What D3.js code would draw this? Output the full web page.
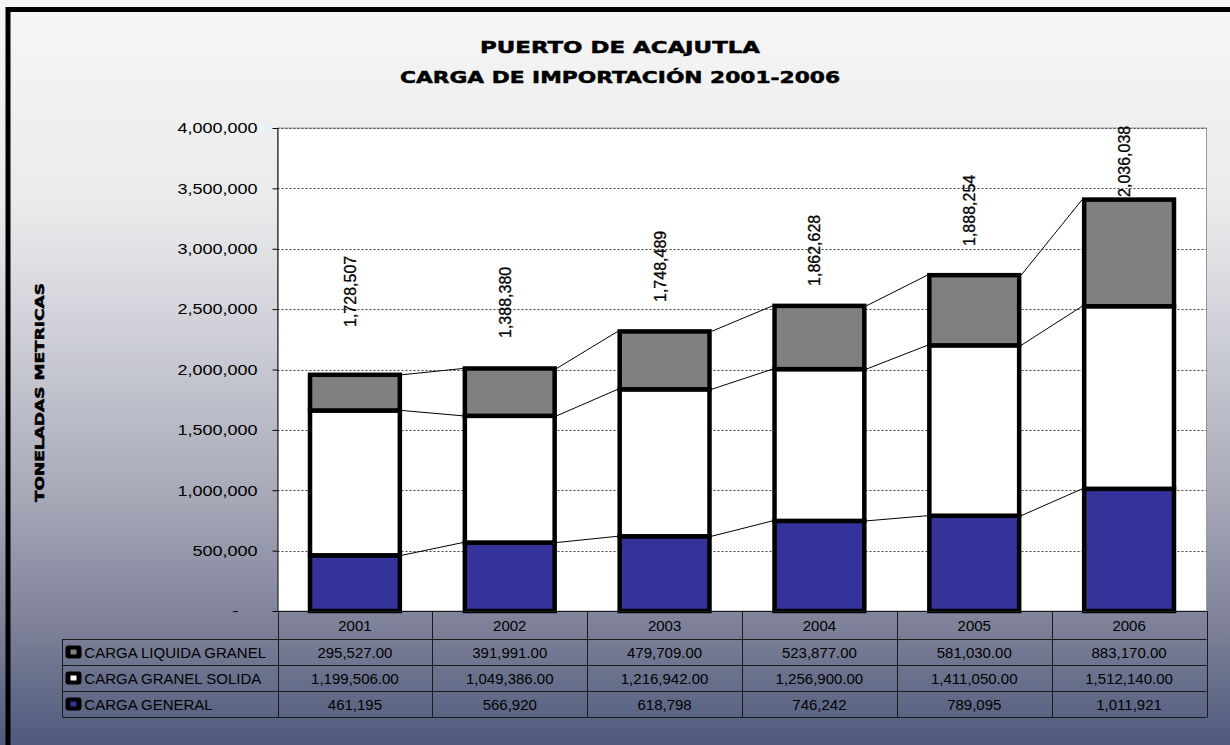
<!DOCTYPE html>
<html lang="es">
<head>
<meta charset="utf-8">
<title>Puerto de Acajutla - Carga de importación 2001-2006</title>
<script src="https://cdn.jsdelivr.net/npm/d3@7"></script>
<style>
body { margin: 0; background: #f0f0f0; }
svg text { font-family: "Liberation Sans", Arial, sans-serif; fill: #000; }
svg text.bold { font-family: "DejaVu Sans", sans-serif; font-weight: bold; fill: #000; stroke: #000; stroke-width: 0.5; }
</style>
</head>
<body>
<script>
// categories
var years = ['2001', '2002', '2003', '2004', '2005', '2006'];

// series values (toneladas metricas)
var cargaGeneral = [461195, 566920, 618798, 746242, 789095, 1011921];
var cargaGranelSolida = [1199506, 1049386, 1216942, 1256900, 1411050, 1512140];
var cargaLiquidaGranel = [295527, 391991, 479709, 523877, 581030, 883170];

// labels written above the bars, and the level of the hidden series they sit on
var labelValues = [1728507, 1388380, 1748489, 1862628, 1888254, 2036038];
var labelLevels = [2352000, 2261000, 2559000, 2692000, 3023000, 3429000];

// axis ticks
var yTicks = [0, 500000, 1000000, 1500000, 2000000, 2500000, 3000000, 3500000, 4000000];

var w = 1230;
var h = 745;

var svg = d3.select('body')
    .append('svg')
    .attr('width', w)
    .attr('height', h);

//background gradient
var grad = svg.append('defs')
    .append('linearGradient')
    .attr('id', 'bg')
    .attr('x1', 0).attr('y1', 0)
    .attr('x2', 0).attr('y2', 1);

[[0, '#f6f6f6'], [0.27, '#ebebed'], [0.4, '#d7d8de'], [0.67, '#a6a8b7'], [0.85, '#7b7f97'], [1, '#4f5a7c']]
    .forEach(function(s) {
        grad.append('stop').attr('offset', s[0]).attr('stop-color', s[1]);
    });

svg.append('rect')
    .attr('width', w)
    .attr('height', h)
    .attr('fill', 'url(#bg)');

//chart frame (runs off the right and bottom edges)
svg.append('rect')
    .attr('x', 8)
    .attr('y', 9.5)
    .attr('width', w + 40)
    .attr('height', h + 40)
    .attr('fill', 'none')
    .attr('stroke', '#000')
    .attr('stroke-width', 5);

//scales
var plotLeft = 277.5, plotRight = 1206.5, plotTop = 128, plotBottom = 611;

var x = d3.scaleBand()
    .domain(years)
    .range([plotLeft, plotRight])
    .paddingInner(0.42)
    .paddingOuter(0.21);

var y = d3.scaleLinear()
    .domain([0, 4000000])
    .range([plotBottom, plotTop]);

var bw = x.bandwidth();

//plot area
svg.append('rect')
    .attr('x', plotLeft)
    .attr('y', plotTop)
    .attr('width', plotRight - plotLeft)
    .attr('height', plotBottom - plotTop)
    .attr('fill', '#fff')
    .attr('stroke', '#999');

//gridlines
svg.append('g')
    .selectAll('line')
    .data(yTicks.filter(function(d) { return d > 0; }))
    .enter()
    .append('line')
    .attr('x1', plotLeft)
    .attr('x2', plotRight)
    .attr('y1', function(d) { return Math.round(y(d)) + 0.5; })
    .attr('y2', function(d) { return Math.round(y(d)) + 0.5; })
    .attr('stroke', '#444')
    .attr('stroke-dasharray', '2,2');

//stacked data
var rows = years.map(function(yr, i) {
    return {
        year: yr,
        general: cargaGeneral[i],
        solida: cargaGranelSolida[i],
        liquida: cargaLiquidaGranel[i]
    };
});

var keys = ['general', 'solida', 'liquida'];
var colors = { general: '#333399', solida: '#ffffff', liquida: '#808080' };
var series = d3.stack().keys(keys)(rows);

//series lines between bars
series.forEach(function(s) {
    svg.append('g')
        .selectAll('line')
        .data(s.slice(0, -1))
        .enter()
        .append('line')
        .attr('x1', function(d) { return x(d.data.year) + bw + 2; })
        .attr('y1', function(d) { return y(d[1]); })
        .attr('x2', function(d, i) { return x(years[i + 1]) - 2; })
        .attr('y2', function(d, i) { return y(s[i + 1][1]); })
        .attr('stroke', '#000')
        .attr('stroke-width', 1);
});

//bars
svg.append('g')
    .selectAll('g')
    .data(series)
    .enter()
    .append('g')
    .attr('fill', function(d) { return colors[d.key]; })
    .selectAll('rect')
    .data(function(d) { return d; })
    .enter()
    .append('rect')
    .attr('x', function(d) { return x(d.data.year); })
    .attr('y', function(d) { return y(d[1]); })
    .attr('width', bw)
    .attr('height', function(d) { return y(d[0]) - y(d[1]); })
    .attr('stroke', '#000')
    .attr('stroke-width', 4.5);

//rotated labels
svg.append('g')
    .selectAll('text')
    .data(labelValues)
    .enter()
    .append('text')
    .attr('transform', function(d, i) {
        return 'translate(' + (x(years[i]) + bw / 2 + 1) + ',' + y(labelLevels[i]) + ') rotate(-90)';
    })
    .attr('font-size', 16)
    .attr('stroke', '#000')
    .attr('stroke-width', 0.3)
    .text(function(d) { return d3.format(',')(d); });

//y axis
var yAxis = svg.append('g')
    .attr('transform', 'translate(' + plotLeft + ',0)')
    .call(d3.axisLeft(y)
        .tickValues(yTicks)
        .tickSize(5)
        .tickSizeOuter(0)
        .tickPadding(11.7)
        .tickFormat(function(d) { return d === 0 ? '-' : d3.format(',')(d); }));

yAxis.selectAll('text')
    .attr('font-size', 15)
    .attr('font-family', '"Liberation Sans", Arial, sans-serif')
    .attr('fill', '#000')
    .attr('transform', 'scale(1.2,1)')
    .filter(function(d) { return d === 0; })
    .attr('x', -32.5);

yAxis.selectAll('line, path').attr('stroke', '#000');

//axis title
svg.append('text')
    .attr('class', 'bold')
    .attr('transform', 'translate(43.5,392.5) rotate(-90)')
    .attr('text-anchor', 'middle')
    .attr('font-size', 12.5)
    .attr('textLength', 219)
    .attr('lengthAdjust', 'spacingAndGlyphs')
    .text('TONELADAS METRICAS');

//title
svg.append('text')
    .attr('class', 'bold')
    .attr('x', 620)
    .attr('y', 53)
    .attr('text-anchor', 'middle')
    .attr('font-size', 16.5)
    .attr('textLength', 280)
    .attr('lengthAdjust', 'spacingAndGlyphs')
    .text('PUERTO DE ACAJUTLA');

svg.append('text')
    .attr('class', 'bold')
    .attr('x', 620)
    .attr('y', 83)
    .attr('text-anchor', 'middle')
    .attr('font-size', 16.5)
    .attr('textLength', 440)
    .attr('lengthAdjust', 'spacingAndGlyphs')
    .text('CARGA DE IMPORTACIÓN 2001-2006');

//data table
var tableLeft = 62.5;
var headerBottom = 639;
var rowH = 26;

var tableRows = [
    { name: 'CARGA LIQUIDA GRANEL', key: 'liquida', values: cargaLiquidaGranel, fmt: d3.format(',.2f') },
    { name: 'CARGA GRANEL SOLIDA', key: 'solida', values: cargaGranelSolida, fmt: d3.format(',.2f') },
    { name: 'CARGA GENERAL', key: 'general', values: cargaGeneral, fmt: d3.format(',') }
];

var table = svg.append('g');
var lineColor = '#1a1a1a';
var tableBottom = headerBottom + rowH * tableRows.length;

//horizontal lines
table.append('line')
    .attr('x1', plotLeft).attr('x2', plotRight)
    .attr('y1', plotBottom + 0.5).attr('y2', plotBottom + 0.5)
    .attr('stroke', lineColor);

d3.range(tableRows.length + 1).forEach(function(r) {
    var yy = headerBottom + r * rowH + 0.5;
    table.append('line')
        .attr('x1', tableLeft).attr('x2', plotRight)
        .attr('y1', yy).attr('y2', yy)
        .attr('stroke', lineColor);
});

//vertical lines
table.append('line')
    .attr('x1', tableLeft).attr('x2', tableLeft)
    .attr('y1', headerBottom).attr('y2', tableBottom + 0.5)
    .attr('stroke', lineColor);

d3.range(years.length + 1).forEach(function(c) {
    var xx = Math.round(plotLeft + c * x.step()) + 0.5;
    table.append('line')
        .attr('x1', xx).attr('x2', xx)
        .attr('y1', plotBottom).attr('y2', tableBottom + 0.5)
        .attr('stroke', lineColor);
});

//header years
table.selectAll('text.year')
    .data(years)
    .enter()
    .append('text')
    .attr('class', 'year')
    .attr('x', function(d) { return x(d) + bw / 2; })
    .attr('y', 630.5)
    .attr('text-anchor', 'middle')
    .attr('font-size', 15)
    .text(function(d) { return d; });

//rows
tableRows.forEach(function(row, r) {
    var cy = headerBottom + r * rowH + rowH / 2;

    table.append('rect')
        .attr('x', 65.5)
        .attr('y', cy - 6.5)
        .attr('width', 16)
        .attr('height', 13)
        .attr('rx', 3)
        .attr('fill', '#000');

    table.append('rect')
        .attr('x', 70.5)
        .attr('y', cy - 2.5)
        .attr('width', 6)
        .attr('height', 5)
        .attr('fill', colors[row.key]);

    table.append('text')
        .attr('x', 84.3)
        .attr('y', cy + 5.5)
        .attr('font-size', 15)
        .text(row.name);

    table.selectAll('text.v' + r)
        .data(row.values)
        .enter()
        .append('text')
        .attr('class', 'v' + r)
        .attr('x', function(d, i) { return x(years[i]) + bw / 2; })
        .attr('y', cy + 5.5)
        .attr('text-anchor', 'middle')
        .attr('font-size', 15)
        .text(function(d) { return row.fmt(d); });
});
</script>
</body>
</html>
